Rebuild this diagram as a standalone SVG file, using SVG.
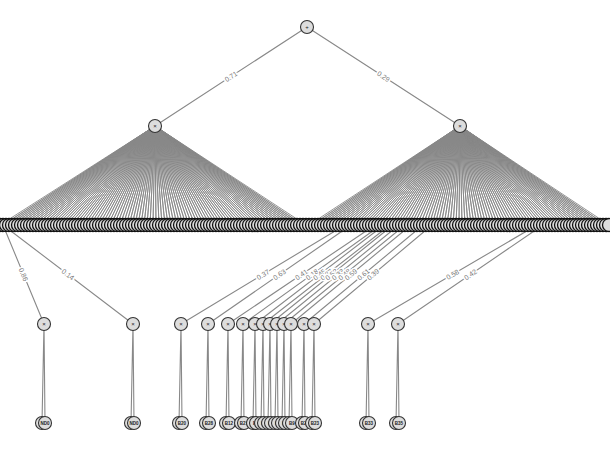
<svg xmlns="http://www.w3.org/2000/svg" xmlns:xlink="http://www.w3.org/1999/xlink" width="610" height="450" viewBox="0 0 610 450">
<style>
.e{stroke:#888;stroke-width:1.1;fill:none}
.f{stroke:#888;stroke-width:0.9;fill:none;stroke-linejoin:round}
.n{fill:#ddd;stroke:#333;stroke-width:1.1}
.m{fill:#ddd;stroke:#111;stroke-width:1.3}
.t{font-family:"Liberation Sans",sans-serif;font-size:6px;text-anchor:middle;fill:#222}
.k{font-family:"Liberation Sans",sans-serif;font-size:4.5px;font-weight:bold;text-anchor:middle;fill:#222}
.l{font-family:"Liberation Sans",sans-serif;font-size:7px;text-anchor:middle;fill:#777;stroke:#fff;stroke-width:3px;paint-order:stroke}
</style>
<defs>
<circle id="m" cx="0" cy="225" r="6.5" class="m"/>
</defs>
<rect width="610" height="450" fill="#fff"/>
<g id="connectors">
<path class="e" d="M307 27L155 126M307 27L460 126"/>
<path class="f" d="M0 225L155 126 3 225 155 126 6 225 155 126 9 225 155 126 12 225 155 126 15 225 155 126 18 225 155 126 21 225 155 126 24 225 155 126 27 225 155 126 30 225 155 126 33 225 155 126 36 225 155 126 39 225 155 126 42 225 155 126 45 225 155 126 48 225 155 126 51 225 155 126 54 225 155 126 57 225 155 126 60 225 155 126 63 225 155 126 66 225 155 126 69 225 155 126 72 225 155 126 75 225 155 126 78 225 155 126 81 225 155 126 84 225 155 126 87 225 155 126 90 225 155 126 93 225 155 126 96 225 155 126 99 225 155 126 102 225 155 126 105 225 155 126 108 225 155 126 111 225 155 126 114 225 155 126 117 225 155 126 120 225 155 126 123 225 155 126 126 225 155 126 129 225 155 126 132 225 155 126 135 225 155 126 138 225 155 126 141 225 155 126 144 225 155 126 147 225 155 126 150 225 155 126 153 225 155 126 156 225 155 126 159 225 155 126 162 225 155 126 165 225 155 126 168 225 155 126 171 225 155 126 174 225 155 126 177 225 155 126 180 225 155 126 183 225 155 126 186 225 155 126 189 225 155 126 192 225 155 126 195 225 155 126 198 225 155 126 201 225 155 126 204 225 155 126 207 225 155 126 210 225 155 126 213 225 155 126 216 225 155 126 219 225 155 126 222 225 155 126 225 225 155 126 228 225 155 126 231 225 155 126 234 225 155 126 237 225 155 126 240 225 155 126 243 225 155 126 246 225 155 126 249 225 155 126 252 225 155 126 255 225 155 126 258 225 155 126 261 225 155 126 264 225 155 126 267 225 155 126 270 225 155 126 273 225 155 126 276 225 155 126 279 225 155 126 282 225 155 126 285 225 155 126 288 225 155 126 291 225 155 126 294 225 155 126 297 225 155 126 300 225 155 126 303 225 155 126 306 225"/>
<path class="f" d="M309 225L460 126 312 225 460 126 315 225 460 126 318 225 460 126 321 225 460 126 324 225 460 126 327 225 460 126 330 225 460 126 333 225 460 126 336 225 460 126 339 225 460 126 342 225 460 126 345 225 460 126 348 225 460 126 351 225 460 126 354 225 460 126 357 225 460 126 360 225 460 126 363 225 460 126 366 225 460 126 369 225 460 126 372 225 460 126 375 225 460 126 378 225 460 126 381 225 460 126 384 225 460 126 387 225 460 126 390 225 460 126 393 225 460 126 396 225 460 126 399 225 460 126 402 225 460 126 405 225 460 126 408 225 460 126 411 225 460 126 414 225 460 126 417 225 460 126 420 225 460 126 423 225 460 126 426 225 460 126 429 225 460 126 432 225 460 126 435 225 460 126 438 225 460 126 441 225 460 126 444 225 460 126 447 225 460 126 450 225 460 126 453 225 460 126 456 225 460 126 459 225 460 126 462 225 460 126 465 225 460 126 468 225 460 126 471 225 460 126 474 225 460 126 477 225 460 126 480 225 460 126 483 225 460 126 486 225 460 126 489 225 460 126 492 225 460 126 495 225 460 126 498 225 460 126 501 225 460 126 504 225 460 126 507 225 460 126 510 225 460 126 513 225 460 126 516 225 460 126 519 225 460 126 522 225 460 126 525 225 460 126 528 225 460 126 531 225 460 126 534 225 460 126 537 225 460 126 540 225 460 126 543 225 460 126 546 225 460 126 549 225 460 126 552 225 460 126 555 225 460 126 558 225 460 126 561 225 460 126 564 225 460 126 567 225 460 126 570 225 460 126 573 225 460 126 576 225 460 126 579 225 460 126 582 225 460 126 585 225 460 126 588 225 460 126 591 225 460 126 594 225 460 126 597 225 460 126 600 225 460 126 603 225 460 126 606 225 460 126 609 225"/>
<path class="e" d="M3 225L44 324M3 225L133 324M345 225L181 324M351 225L208 324M375 225L228 324M381 225L243 324M384 225L255 324M390 225L263 324M393 225L270 324M399 225L277 324M405 225L284 324M411 225L291 324M423 225L304 324M432 225L314 324M537 225L368 324M543 225L398 324"/>
<path class="e" d="M44 324L42 423M44 324L45 423M133 324L131 423M133 324L134 423M181 324L179 423M181 324L182 423M208 324L206 423M208 324L209 423M228 324L226 423M228 324L229 423M243 324L241 423M243 324L244 423M255 324L253 423M255 324L256 423M263 324L261 423M263 324L264 423M270 324L268 423M270 324L271 423M277 324L275 423M277 324L278 423M284 324L282 423M284 324L285 423M291 324L289 423M291 324L292 423M304 324L302 423M304 324L305 423M314 324L312 423M314 324L315 423M368 324L366 423M368 324L369 423M398 324L396 423M398 324L399 423"/>
<g id="edge-labels">
<text class="l" x="231" y="79" transform="rotate(-33.1 231 76.5)">0.71</text>
<text class="l" x="383.5" y="79" transform="rotate(33.1 383.5 76.5)">0.29</text>
<text class="l" x="23.5" y="277" transform="rotate(67.5 23.5 274.5)">0.86</text>
<text class="l" x="68" y="277" transform="rotate(37.3 68 274.5)">0.14</text>
<text class="l" x="263" y="277" transform="rotate(-31.1 263 274.5)">0.37</text>
<text class="l" x="279.5" y="277" transform="rotate(-34.7 279.5 274.5)">0.63</text>
<text class="l" x="301.5" y="277" transform="rotate(-34 301.5 274.5)">0.41</text>
<text class="l" x="312" y="277" transform="rotate(-35.7 312 274.5)">0.18</text>
<text class="l" x="319.5" y="277" transform="rotate(-37.5 319.5 274.5)">0.45</text>
<text class="l" x="326.5" y="277" transform="rotate(-37.9 326.5 274.5)">0.27</text>
<text class="l" x="331.5" y="277" transform="rotate(-38.8 331.5 274.5)">0.52</text>
<text class="l" x="338" y="277" transform="rotate(-39.1 338 274.5)">0.33</text>
<text class="l" x="344.5" y="277" transform="rotate(-39.3 344.5 274.5)">0.48</text>
<text class="l" x="351" y="277" transform="rotate(-39.5 351 274.5)">0.59</text>
<text class="l" x="363.5" y="277" transform="rotate(-39.8 363.5 274.5)">0.61</text>
<text class="l" x="373" y="277" transform="rotate(-40 373 274.5)">0.39</text>
<text class="l" x="452.5" y="277" transform="rotate(-30.4 452.5 274.5)">0.58</text>
<text class="l" x="470.5" y="277" transform="rotate(-34.3 470.5 274.5)">0.42</text>
</g>
</g>
<g id="root"><circle cx="307" cy="27" r="6.5" class="n"/><text class="t" x="307" y="29">+</text></g>
<g id="mul-left"><circle cx="155" cy="126" r="6.5" class="n"/><text class="t" x="155" y="128">×</text></g>
<g id="mul-right"><circle cx="460" cy="126" r="6.5" class="n"/><text class="t" x="460" y="128">×</text></g>
<g id="row">
<use href="#m" x="0"/><use href="#m" x="3"/><use href="#m" x="6"/><use href="#m" x="9"/><use href="#m" x="12"/><use href="#m" x="15"/><use href="#m" x="18"/><use href="#m" x="21"/><use href="#m" x="24"/><use href="#m" x="27"/><use href="#m" x="30"/><use href="#m" x="33"/><use href="#m" x="36"/><use href="#m" x="39"/><use href="#m" x="42"/><use href="#m" x="45"/><use href="#m" x="48"/><use href="#m" x="51"/><use href="#m" x="54"/><use href="#m" x="57"/><use href="#m" x="60"/><use href="#m" x="63"/><use href="#m" x="66"/><use href="#m" x="69"/><use href="#m" x="72"/><use href="#m" x="75"/><use href="#m" x="78"/><use href="#m" x="81"/><use href="#m" x="84"/><use href="#m" x="87"/><use href="#m" x="90"/><use href="#m" x="93"/><use href="#m" x="96"/><use href="#m" x="99"/><use href="#m" x="102"/><use href="#m" x="105"/><use href="#m" x="108"/><use href="#m" x="111"/><use href="#m" x="114"/><use href="#m" x="117"/><use href="#m" x="120"/><use href="#m" x="123"/><use href="#m" x="126"/><use href="#m" x="129"/><use href="#m" x="132"/><use href="#m" x="135"/><use href="#m" x="138"/><use href="#m" x="141"/><use href="#m" x="144"/><use href="#m" x="147"/><use href="#m" x="150"/><use href="#m" x="153"/><use href="#m" x="156"/><use href="#m" x="159"/><use href="#m" x="162"/><use href="#m" x="165"/><use href="#m" x="168"/><use href="#m" x="171"/><use href="#m" x="174"/><use href="#m" x="177"/><use href="#m" x="180"/><use href="#m" x="183"/><use href="#m" x="186"/><use href="#m" x="189"/><use href="#m" x="192"/><use href="#m" x="195"/><use href="#m" x="198"/><use href="#m" x="201"/><use href="#m" x="204"/><use href="#m" x="207"/><use href="#m" x="210"/><use href="#m" x="213"/><use href="#m" x="216"/><use href="#m" x="219"/><use href="#m" x="222"/><use href="#m" x="225"/><use href="#m" x="228"/><use href="#m" x="231"/><use href="#m" x="234"/><use href="#m" x="237"/><use href="#m" x="240"/><use href="#m" x="243"/><use href="#m" x="246"/><use href="#m" x="249"/><use href="#m" x="252"/><use href="#m" x="255"/><use href="#m" x="258"/><use href="#m" x="261"/><use href="#m" x="264"/><use href="#m" x="267"/><use href="#m" x="270"/><use href="#m" x="273"/><use href="#m" x="276"/><use href="#m" x="279"/><use href="#m" x="282"/><use href="#m" x="285"/><use href="#m" x="288"/><use href="#m" x="291"/><use href="#m" x="294"/><use href="#m" x="297"/><use href="#m" x="300"/><use href="#m" x="303"/><use href="#m" x="306"/><use href="#m" x="309"/><use href="#m" x="312"/><use href="#m" x="315"/><use href="#m" x="318"/><use href="#m" x="321"/><use href="#m" x="324"/><use href="#m" x="327"/><use href="#m" x="330"/><use href="#m" x="333"/><use href="#m" x="336"/><use href="#m" x="339"/><use href="#m" x="342"/><use href="#m" x="345"/><use href="#m" x="348"/><use href="#m" x="351"/><use href="#m" x="354"/><use href="#m" x="357"/><use href="#m" x="360"/><use href="#m" x="363"/><use href="#m" x="366"/><use href="#m" x="369"/><use href="#m" x="372"/><use href="#m" x="375"/><use href="#m" x="378"/><use href="#m" x="381"/><use href="#m" x="384"/><use href="#m" x="387"/><use href="#m" x="390"/><use href="#m" x="393"/><use href="#m" x="396"/><use href="#m" x="399"/><use href="#m" x="402"/><use href="#m" x="405"/><use href="#m" x="408"/><use href="#m" x="411"/><use href="#m" x="414"/><use href="#m" x="417"/><use href="#m" x="420"/><use href="#m" x="423"/><use href="#m" x="426"/><use href="#m" x="429"/><use href="#m" x="432"/><use href="#m" x="435"/><use href="#m" x="438"/><use href="#m" x="441"/><use href="#m" x="444"/><use href="#m" x="447"/><use href="#m" x="450"/><use href="#m" x="453"/><use href="#m" x="456"/><use href="#m" x="459"/><use href="#m" x="462"/><use href="#m" x="465"/><use href="#m" x="468"/><use href="#m" x="471"/><use href="#m" x="474"/><use href="#m" x="477"/><use href="#m" x="480"/><use href="#m" x="483"/><use href="#m" x="486"/><use href="#m" x="489"/><use href="#m" x="492"/><use href="#m" x="495"/><use href="#m" x="498"/><use href="#m" x="501"/><use href="#m" x="504"/><use href="#m" x="507"/><use href="#m" x="510"/><use href="#m" x="513"/><use href="#m" x="516"/><use href="#m" x="519"/><use href="#m" x="522"/><use href="#m" x="525"/><use href="#m" x="528"/><use href="#m" x="531"/><use href="#m" x="534"/><use href="#m" x="537"/><use href="#m" x="540"/><use href="#m" x="543"/><use href="#m" x="546"/><use href="#m" x="549"/><use href="#m" x="552"/><use href="#m" x="555"/><use href="#m" x="558"/><use href="#m" x="561"/><use href="#m" x="564"/><use href="#m" x="567"/><use href="#m" x="570"/><use href="#m" x="573"/><use href="#m" x="576"/><use href="#m" x="579"/><use href="#m" x="582"/><use href="#m" x="585"/><use href="#m" x="588"/><use href="#m" x="591"/><use href="#m" x="594"/><use href="#m" x="597"/><use href="#m" x="600"/><use href="#m" x="603"/><use href="#m" x="606"/><use href="#m" x="609"/>
</g>
<g id="p1"><circle cx="44" cy="324" r="6.5" class="n"/><text class="t" x="44" y="326">×</text></g>
<g id="p2"><circle cx="133" cy="324" r="6.5" class="n"/><text class="t" x="133" y="326">×</text></g>
<g id="p3"><circle cx="181" cy="324" r="6.5" class="n"/><text class="t" x="181" y="326">×</text></g>
<g id="p4"><circle cx="208" cy="324" r="6.5" class="n"/><text class="t" x="208" y="326">×</text></g>
<g id="p5"><circle cx="228" cy="324" r="6.5" class="n"/><text class="t" x="228" y="326">×</text></g>
<g id="p6"><circle cx="243" cy="324" r="6.5" class="n"/><text class="t" x="243" y="326">×</text></g>
<g id="p7"><circle cx="255" cy="324" r="6.5" class="n"/><text class="t" x="255" y="326">×</text></g>
<g id="p8"><circle cx="263" cy="324" r="6.5" class="n"/><text class="t" x="263" y="326">×</text></g>
<g id="p9"><circle cx="270" cy="324" r="6.5" class="n"/><text class="t" x="270" y="326">×</text></g>
<g id="p10"><circle cx="277" cy="324" r="6.5" class="n"/><text class="t" x="277" y="326">×</text></g>
<g id="p11"><circle cx="284" cy="324" r="6.5" class="n"/><text class="t" x="284" y="326">×</text></g>
<g id="p12"><circle cx="291" cy="324" r="6.5" class="n"/><text class="t" x="291" y="326">×</text></g>
<g id="p13"><circle cx="304" cy="324" r="6.5" class="n"/><text class="t" x="304" y="326">×</text></g>
<g id="p14"><circle cx="314" cy="324" r="6.5" class="n"/><text class="t" x="314" y="326">×</text></g>
<g id="p15"><circle cx="368" cy="324" r="6.5" class="n"/><text class="t" x="368" y="326">×</text></g>
<g id="p16"><circle cx="398" cy="324" r="6.5" class="n"/><text class="t" x="398" y="326">×</text></g>
<g id="leaves">
<g id="l1a"><circle cx="42" cy="423" r="6.5" class="n"/></g><g id="l1b"><circle cx="45" cy="423" r="6.5" class="n"/><text class="k" x="45" y="424.6">ND0</text></g>
<g id="l2a"><circle cx="131" cy="423" r="6.5" class="n"/></g><g id="l2b"><circle cx="134" cy="423" r="6.5" class="n"/><text class="k" x="134" y="424.6">ND0</text></g>
<g id="l3a"><circle cx="179" cy="423" r="6.5" class="n"/></g><g id="l3b"><circle cx="182" cy="423" r="6.5" class="n"/><text class="k" x="182" y="424.6">B20</text></g>
<g id="l4a"><circle cx="206" cy="423" r="6.5" class="n"/></g><g id="l4b"><circle cx="209" cy="423" r="6.5" class="n"/><text class="k" x="209" y="424.6">B28</text></g>
<g id="l5a"><circle cx="226" cy="423" r="6.5" class="n"/></g><g id="l5b"><circle cx="229" cy="423" r="6.5" class="n"/><text class="k" x="229" y="424.6">B12</text></g>
<g id="l6a"><circle cx="241" cy="423" r="6.5" class="n"/></g><g id="l6b"><circle cx="244" cy="423" r="6.5" class="n"/><text class="k" x="244" y="424.6">B21</text></g>
<g id="l7a"><circle cx="253" cy="423" r="6.5" class="n"/></g><g id="l7b"><circle cx="256" cy="423" r="6.5" class="n"/><text class="k" x="256" y="424.6">B3</text></g>
<g id="l8a"><circle cx="261" cy="423" r="6.5" class="n"/></g><g id="l8b"><circle cx="264" cy="423" r="6.5" class="n"/><text class="k" x="264" y="424.6">B4</text></g>
<g id="l9a"><circle cx="268" cy="423" r="6.5" class="n"/></g><g id="l9b"><circle cx="271" cy="423" r="6.5" class="n"/><text class="k" x="271" y="424.6">B5</text></g>
<g id="l10a"><circle cx="275" cy="423" r="6.5" class="n"/></g><g id="l10b"><circle cx="278" cy="423" r="6.5" class="n"/><text class="k" x="278" y="424.6">B6</text></g>
<g id="l11a"><circle cx="282" cy="423" r="6.5" class="n"/></g><g id="l11b"><circle cx="285" cy="423" r="6.5" class="n"/><text class="k" x="285" y="424.6">B7</text></g>
<g id="l12a"><circle cx="289" cy="423" r="6.5" class="n"/></g><g id="l12b"><circle cx="292" cy="423" r="6.5" class="n"/><text class="k" x="292" y="424.6">B9</text></g>
<g id="l13a"><circle cx="302" cy="423" r="6.5" class="n"/></g><g id="l13b"><circle cx="305" cy="423" r="6.5" class="n"/><text class="k" x="305" y="424.6">B27</text></g>
<g id="l14a"><circle cx="312" cy="423" r="6.5" class="n"/></g><g id="l14b"><circle cx="315" cy="423" r="6.5" class="n"/><text class="k" x="315" y="424.6">B23</text></g>
<g id="l15a"><circle cx="366" cy="423" r="6.5" class="n"/></g><g id="l15b"><circle cx="369" cy="423" r="6.5" class="n"/><text class="k" x="369" y="424.6">B33</text></g>
<g id="l16a"><circle cx="396" cy="423" r="6.5" class="n"/></g><g id="l16b"><circle cx="399" cy="423" r="6.5" class="n"/><text class="k" x="399" y="424.6">B35</text></g>
</g>
</svg>
